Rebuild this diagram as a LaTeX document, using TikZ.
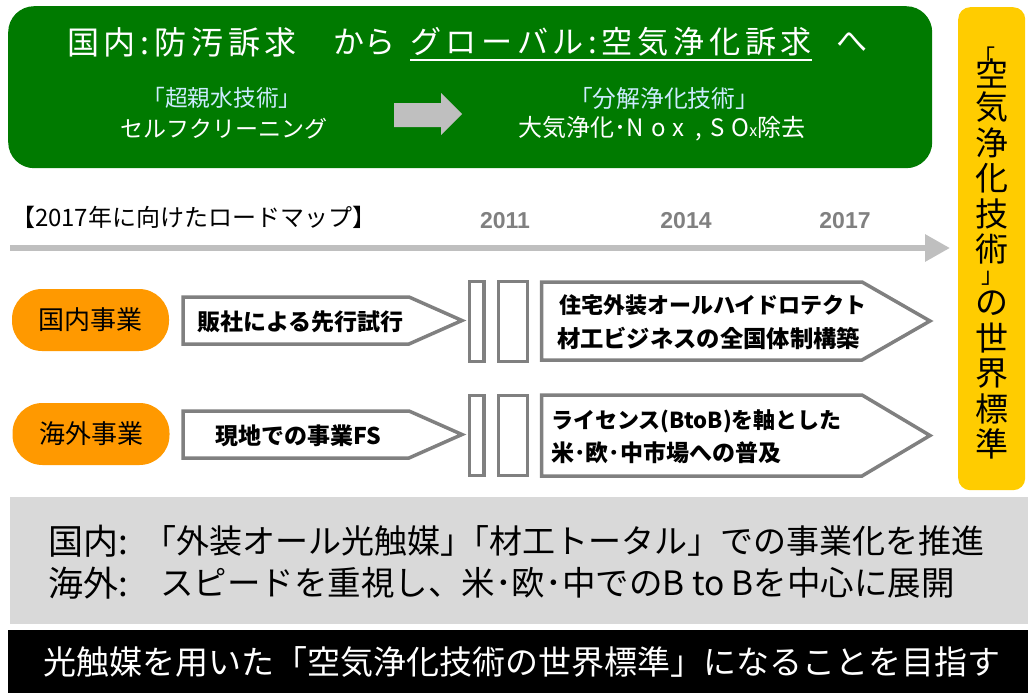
\documentclass[tikz,border=0pt]{standalone}
\usepackage{fontspec}
\setmainfont{Noto Sans CJK JP}
\newfontfamily\arialf{Liberation Sans}
\usetikzlibrary{arrows.meta}
\definecolor{tgreen}{RGB}{0,122,0}
\definecolor{tyellow}{RGB}{255,204,0}
\definecolor{torange}{RGB}{255,153,0}
\definecolor{tborder}{RGB}{128,128,128}
\definecolor{tline}{RGB}{191,191,191}
\definecolor{tpanel}{RGB}{217,217,217}
\definecolor{tcyan}{RGB}{204,236,255}
\newcommand\fs[1]{\fontsize{#1}{#1}\selectfont}
\newcommand\lsp[1]{\addfontfeature{LetterSpace=#1}}
\begin{document}
\begin{tikzpicture}[x=1pt,y=-1pt,
  txt/.style={inner sep=0pt, outer sep=0pt},
  pentbox/.style={draw=tborder, line width=3.5pt, fill=white, line join=miter},
  barbox/.style={draw=tborder, line width=3.5pt, fill=white},
  pill/.style={fill=torange, rounded corners=30pt, minimum width=157pt, minimum height=62pt, inner sep=0pt, font=\fs{26}},
  yeartxt/.style={txt, text=tborder, font=\arialf\bfseries\fs{23}},
  boldtxt/.style={txt, anchor=west, font=\bfseries\fs{23}},
  vchar/.style={txt, font=\fs{33}}]
\useasboundingbox (0,0) rectangle (1028,693);

% green header
\node[fill=tgreen, rounded corners=26pt, minimum width=924pt, minimum height=162pt, anchor=north west, inner sep=0pt] (head) at (8,6) {};
\node[txt, anchor=west, text=white] (t1) at (67,42) {\resizebox{230pt}{!}{\fs{31}\lsp{15}国内:防汚訴求}};
\node[txt, anchor=west, text=white, font=\fs{31}] (t2) at (333,42) {から};
\node[txt, anchor=west, text=white] (t3) at (410,42) {\resizebox{402pt}{!}{\fs{31}\lsp{15}グローバル:空気浄化訴求}};
\node[txt, anchor=west, text=white, font=\fs{31}] (t4) at (836,42) {へ};
\draw[white, line width=2pt] ([yshift=-4pt]t3.south west) -- ([yshift=-4pt]t3.south east);

\node[txt, text=tcyan] (s1a) at (222,98) {\resizebox{159pt}{!}{\fs{22}「超親水技術」}};
\node[txt, text=white, font=\fs{23}] (s1b) at (224,129) {セルフクリーニング};
\node[txt, text=tcyan] (s2a) at (664,98) {\resizebox{190pt}{!}{\fs{22}「分解浄化技術」}};
\node[txt, text=white] (s2b) at (662,129) {\fs{24}大気浄化･{\lsp{30}Nox}\hspace{11pt},\hspace{8pt}{\lsp{30}SO}{\fs{16}x}除去};
\fill[tline] (394,103) -- (441,103) -- (441,93) -- (462,114) -- (441,135) -- (441,127) -- (394,127) -- cycle;

% roadmap
\node[txt, anchor=west, font=\fs{24}] (rm) at (11,217) {【2017年に向けたロードマップ】};
\node[yeartxt] (y11) at (505,221) {2011};
\node[yeartxt] (y14) at (686,221) {2014};
\node[yeartxt] (y17) at (845,221) {2017};
\coordinate (tl0) at (10,248);
\coordinate (tl1) at (950,248);
\draw[tline, line width=6pt, -{Triangle[length=25pt,width=26pt]}] (tl0) -- (tl1);

% row 1
\node[pill] (dom) at (90.5,320) {国内事業};
\draw[pentbox] (183,297) -- (409,297) -- (462,320.5) -- (409,344) -- (183,344) -- cycle;
\node[boldtxt] (p1) at (197,322) {販社による先行試行};
\draw[barbox] (469.5,281.5) rectangle (484,361.5);
\draw[barbox] (498.5,281.5) rectangle (527.5,361.5);
\draw[pentbox] (541.5,282) -- (862,282) -- (930,321) -- (862,360) -- (541.5,360) -- cycle;
\node[boldtxt, font=\bfseries\fs{22}] (q1a) at (559,305) {住宅外装オールハイドロテクト};
\node[boldtxt, font=\bfseries\fs{22}] (q1b) at (557,338) {\resizebox{303pt}{!}{材工ビジネスの全国体制構築}};

% row 2
\node[pill] (ovs) at (91,434) {海外事業};
\draw[pentbox] (183,411) -- (409,411) -- (462,434.5) -- (409,458) -- (183,458) -- cycle;
\node[boldtxt] (p2) at (215,436) {現地での事業FS};
\draw[barbox] (469.5,395.5) rectangle (484,475.5);
\draw[barbox] (498.5,395.5) rectangle (527.5,475.5);
\draw[pentbox] (541.5,395) -- (862,395) -- (930,435.5) -- (862,476) -- (541.5,476) -- cycle;
\node[boldtxt, font=\bfseries\fs{22}] (q2a) at (551,421) {ライセンス(BtoB)を軸とした};
\node[boldtxt, font=\bfseries\fs{23}] (q2b) at (551,453) {米･欧･中市場への普及};

% yellow vertical box
\node[fill=tyellow, rounded corners=12pt, minimum width=67pt, minimum height=483pt, anchor=north west, inner sep=0pt] (std) at (958,7) {};
\node[txt, anchor=base, font=\fs{22}] (vb1) at (984,66) {「};
\foreach \c/\yy [count=\i] in {空/73, 気/107.5, 浄/143, 化/178, 技/214, 術/249, の/303.5, 世/338.5, 界/374, 標/409, 準/444}
  \node[vchar] (v\i) at (992,\yy) {\c};
\node[txt, anchor=base, font=\fs{22}] (vb2) at (992,283) {」};

% bottom panel
\node[fill=tpanel, anchor=north west, minimum width=1018pt, minimum height=127pt, inner sep=0pt] (panel) at (10,497) {};
\node[txt, anchor=west, font=\fs{35}] (b1a) at (48,541) {国内:};
\node[txt, anchor=west] (b1b) at (143,541) {\resizebox{842pt}{!}{\fs{35}「外装オール光触媒」\kern-.5em「材工トータル」での事業化を推進}};
\node[txt, anchor=west, font=\fs{35}] (b2a) at (48,583) {海外:};
\node[txt, anchor=west] (b2b) at (160,583) {\resizebox{795pt}{!}{\fs{34}スピードを重視し、米･欧･中でのB to Bを中心に展開}};

% black bar
\node[fill=black, anchor=north west, minimum width=1020pt, minimum height=63pt, inner sep=0pt] (bar) at (8,630) {};
\node[txt, text=white, font=\fs{33}] (bt) at (522,662) {光触媒を用いた「空気浄化技術の世界標準」になることを目指す};
\end{tikzpicture}
\end{document}
